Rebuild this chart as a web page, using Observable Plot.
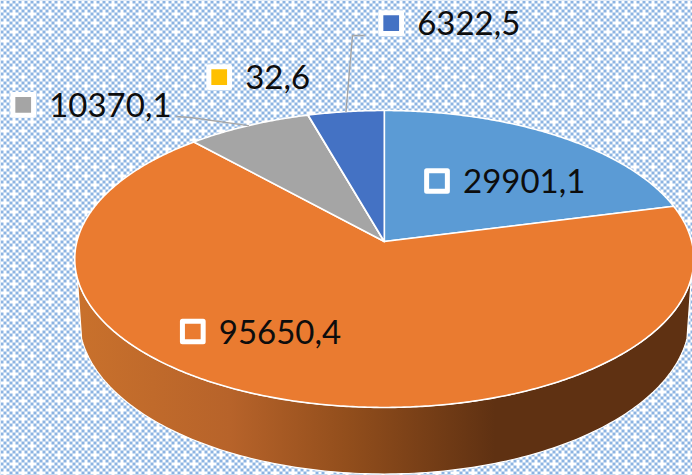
<!DOCTYPE html>
<html>
<head>
<meta charset="utf-8">
<style>html,body{margin:0;padding:0;background:#fff}svg{display:block}</style>
<script src="https://cdn.jsdelivr.net/npm/d3@7"></script>
<script src="https://cdn.jsdelivr.net/npm/@observablehq/plot@0.6"></script>
</head>
<body>
<script>
// Data
const categories = ["a", "b", "c", "d", "e"];
const values = [29901.1, 95650.4, 10370.1, 32.6, 6322.5];
const valueLabels = ["29901,1", "95650,4", "10370,1", "32,6", "6322,5"];

// Styles
const sliceColors = ["#5b9bd5", "#ea7b30", "#a5a5a5", "#ffc000", "#4472c4"];

// Layout: label key centres, in pixels
const keyPixelX = [436.5, 192.3, 22.7, 218.7, 390.7];
const keyPixelY = [180.5, 331, 104.3, 76.7, 22.7];
const leaderFrom = [null, null, [176, 116], null, [364, 35]];

// Projection of the tilted disc
const W = 692, H = 475, cx = 383.8, cy = 241;
const persp = 0.1178, unitX = 307.4, unitY = 146.4;
const depth = 58.7 / unitY, shrink = 0.986;
const project = (deg, lift = 0, k = 1) => {
  const t = deg * Math.PI / 180, X = Math.sin(t), Y = -Math.cos(t), s = 1 / (1 - persp * Y);
  return {u: X * s * k, v: (Y + lift) * s};
};
const toU = (px) => (px - cx) / unitX, toV = (py) => (py - cy) / unitY;

// Slices from the values
const arcs = d3.pie().sort(null).value((d) => d)(values).map((a, i) => ({
  i, name: categories[i], a0: a.startAngle * 180 / Math.PI, a1: a.endAngle * 180 / Math.PI
}));
const slicePts = arcs.flatMap((a) => {
  const n = Math.max(2, Math.ceil(a.a1 - a.a0) * 2);
  const rim = d3.range(n + 1).map((j) => project(a.a0 + (a.a1 - a.a0) * j / n));
  return [{u: 0, v: 0}, ...rim, {u: 0, v: 0}].map((p) => ({...p, name: a.name, color: sliceColors[a.i]}));
});

// Side wall
const startA = 256, endA = 104;
const upper = d3.range(endA, startA + 0.5, 1).map((d) => project(d));
const lower = d3.range(startA, endA - 0.5, -1).map((d) => project(d, depth, shrink));
const wall = [...upper, ...lower, upper[0]];

// Labels and leader lines
const labels = arcs.map((a) => ({
  u: toU(keyPixelX[a.i]), v: toV(keyPixelY[a.i]),
  tu: toU(keyPixelX[a.i] + 26), tv: toV(keyPixelY[a.i] + 1.5),
  text: valueLabels[a.i], color: sliceColors[a.i]
}));
const leaders = arcs.filter((a) => leaderFrom[a.i]).flatMap((a) => {
  const end = project((a.a0 + a.a1) / 2), [sx, sy] = leaderFrom[a.i];
  const elbow = a.i === 2 ? [sx + 14, sy + 1] : [sx - 12, sy];
  return [
    {u: toU(sx), v: toV(sy), k: a.name},
    {u: toU(elbow[0]), v: toV(elbow[1]), k: a.name},
    {...end, k: a.name}
  ];
});

// Pattern and gradient definitions
const defs = () => {
  const g = d3.create("svg:g");
  const d = g.append("defs");
  const cells = 6, c = 3, tile = cells * c;
  const p = d.append("pattern").attr("id", "bg").attr("patternUnits", "userSpaceOnUse")
    .attr("width", tile).attr("height", tile);
  p.append("rect").attr("width", tile).attr("height", tile).attr("fill", "#fff");
  const gap = (ix, iy) => (ix === 1 && iy === 1) || (ix === 4 && iy === 4);
  for (let iy = 0; iy < cells; iy++) for (let ix = 0; ix < cells; ix++) {
    if ((ix + iy) % 2 === 0 && !gap(ix, iy)) {
      p.append("rect").attr("x", ix * c).attr("y", iy * c).attr("width", c).attr("height", c).attr("fill", "#8db4e2");
    }
  }
  const lg = d.append("linearGradient").attr("id", "wallGrad").attr("gradientUnits", "userSpaceOnUse")
    .attr("x1", 75).attr("x2", 692).attr("y1", 0).attr("y2", 0);
  [[0, "#c9712c"], [0.25, "#b7632a"], [0.44, "#924e1c"], [0.68, "#5f3112"], [1, "#5f3112"]]
    .forEach(([o, col]) => lg.append("stop").attr("offset", o).attr("stop-color", col));
  return g.node();
};

const chart = Plot.plot({
  width: W, height: H, margin: 0,
  x: {axis: null, domain: [toU(0), toU(W)], range: [0, W]},
  y: {axis: null, domain: [toV(0), toV(H)], range: [0, H]},
  color: {type: "identity"},
  marks: [
    defs,
    Plot.frame({fill: "url(#bg)", stroke: "none"}),
    Plot.line(wall, {x: "u", y: "v", fill: "url(#wallGrad)", stroke: "#fff", strokeWidth: 1.2, curve: "linear"}),
    Plot.line(slicePts, {x: "u", y: "v", z: "name", fill: "color", stroke: "#fff", strokeWidth: 1.6, strokeLinejoin: "round", curve: "linear"}),
    Plot.line(leaders, {x: "u", y: "v", z: "k", stroke: "#a6a6a6", strokeWidth: 1.4, curve: "linear"}),
    Plot.dot(labels, {x: "u", y: "v", symbol: "square", r: 11.7, fill: "color", stroke: "#fff", strokeWidth: 5, strokeLinejoin: "round"}),
    Plot.text(labels, {x: "tu", y: "tv", text: "text", textAnchor: "start", lineAnchor: "middle", fontFamily: "Lato", fontSize: 33, fill: "#0d0d0d"})
  ]
});
document.body.appendChild(chart);
</script>
</body>
</html>
